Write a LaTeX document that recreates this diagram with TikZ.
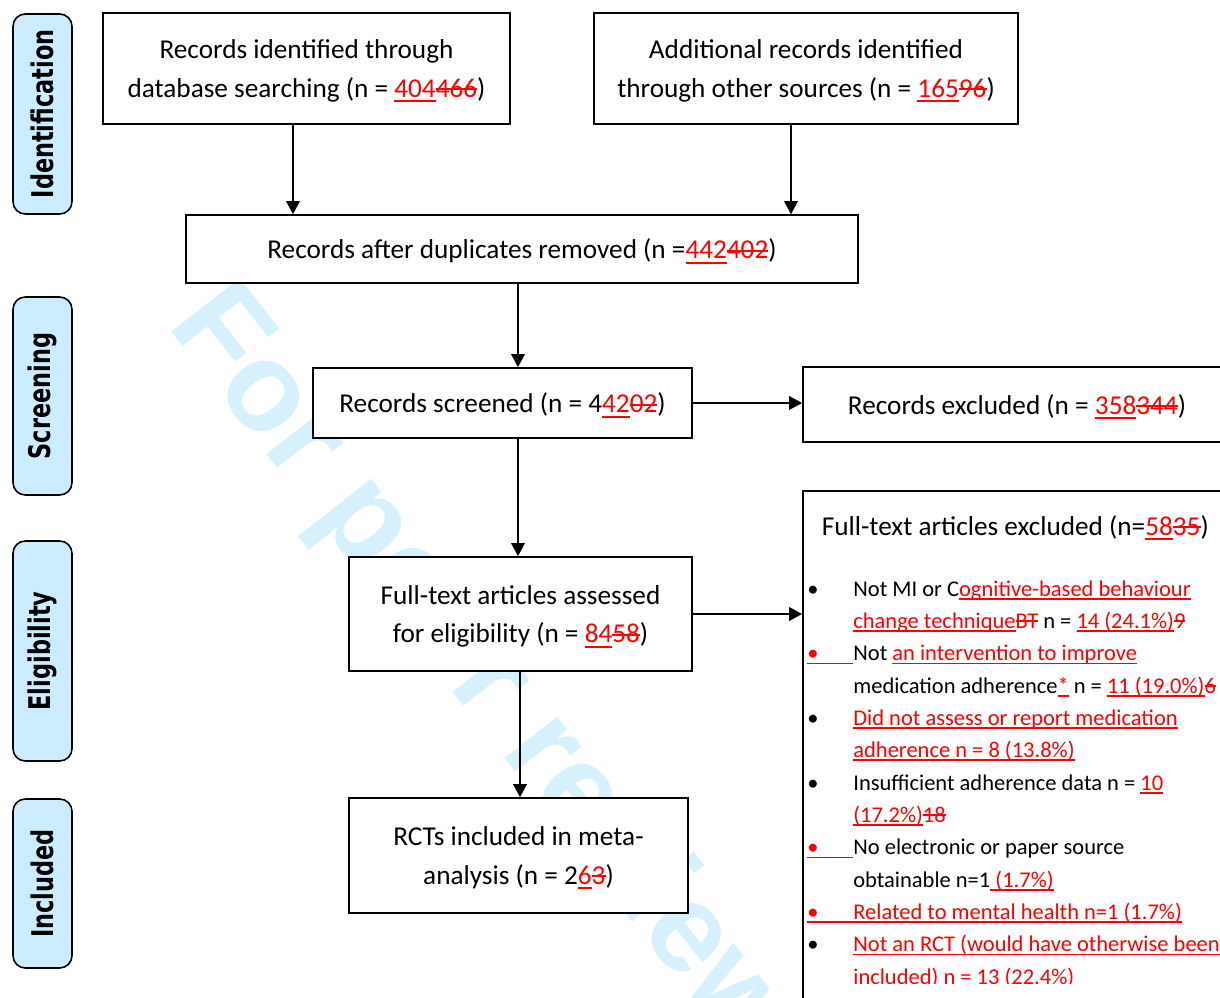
\documentclass[tikz,border=0pt]{standalone}
\usepackage{fontspec}
\usepackage{graphicx}
\setmainfont{Carlito}
\newfontfamily\stagefont{DejaVu Sans}
\newfontfamily\markfont{Liberation Sans}
\usetikzlibrary{arrows.meta}

\definecolor{stageblue}{RGB}{204,236,255}
\definecolor{markblue}{RGB}{214,240,252}
\definecolor{editred}{RGB}{255,0,0}

\newcommand{\boxsize}{\fontsize{15.5}{22.1}\selectfont}
\newcommand{\listsize}{\fontsize{12.8}{18.3}\selectfont}
\newcommand{\squeeze}[1]{\scalebox{0.75}[1]{#1}}
\newsavebox{\editbox}
% tracked changes: inserted text underlined, deleted text struck out
\newcommand{\addtxt}[1]{\sbox{\editbox}{\color{editred}#1}%
  {\color{editred}\rlap{\rule[-0.17em]{\wd\editbox}{0.07em}}}\usebox{\editbox}}
\newcommand{\deltxt}[1]{\sbox{\editbox}{\color{editred}#1}%
  {\color{editred}\rlap{\rule[0.27em]{\wd\editbox}{0.07em}}}\usebox{\editbox}}
\newcommand{\dotbox}{\makebox[0.92cm][l]{•}}

\begin{document}
\begin{tikzpicture}[x=2cm, y=-2cm,
  box/.style={draw, line width=0.9pt, fill=white, align=center, inner sep=0pt,
    text depth=0pt, font=\boxsize},
  stage/.style={draw, line width=0.9pt, fill=stageblue, rounded corners=7pt, rotate=90,
    inner sep=0pt, minimum height=1.18cm, font=\stagefont\bfseries\fontsize{17}{17}\selectfont},
  flow/.style={-{Triangle[length=7.4pt,width=7.6pt]}, line width=1.2pt},
  listline/.style={anchor=base west, inner sep=0pt, font=\listsize},
  watermark/.style={anchor=base west, rotate=-52, inner sep=0pt, text=markblue,
    font=\markfont\bfseries\fontsize{72}{72}\selectfont}]
  \useasboundingbox (0,0) rectangle (12.2,9.98);
  \clip (0,0) rectangle (12.2,9.98);

  % Watermark
  \node[watermark] (peermark) at (1.66,3.25) {For peer review};

  % Stages
  \node[stage, minimum width=4.0cm] (identification) at (0.425,1.14) {\squeeze{Identification}};
  \node[stage, minimum width=3.96cm] (screening) at (0.425,3.96) {\squeeze{Screening}};
  \node[stage, minimum width=4.4cm] (eligibility) at (0.425,6.51) {\squeeze{Eligibility}};
  \node[stage, minimum width=3.38cm] (included) at (0.425,8.835) {\squeeze{Included}};

  % Boxes
  \node[box, minimum width=8.14cm, minimum height=2.22cm] (dbsearch) at (3.065,0.685)
    {Records identified through\\database searching (n = \addtxt{404}\deltxt{466})};
  \node[box, minimum width=8.48cm, minimum height=2.22cm] (othersrc) at (8.06,0.685)
    {Additional records identified\\through other sources (n = \addtxt{165}\deltxt{96})};
  \node[box, minimum width=13.44cm, minimum height=1.36cm] (dedup) at (5.22,2.49)
    {Records after duplicates removed (n =\addtxt{442}\deltxt{402})};
  \node[box, minimum width=7.58cm, minimum height=1.4cm] (screened) at (5.025,4.03)
    {Records screened (n = 4\addtxt{42}\deltxt{02})};
  \node[box, minimum width=8.56cm, minimum height=1.5cm] (recexcl) at (10.17,4.045)
    {Records excluded (n = \addtxt{358}\deltxt{344})};
  \node[box, minimum width=6.86cm, minimum height=2.28cm] (fullassess) at (5.205,6.14)
    {Full-text articles assessed\\for eligibility (n = \addtxt{84}\deltxt{58})};
  \node[box, minimum width=6.78cm, minimum height=2.3cm] (rcts) at (5.185,8.555)
    {RCTs included in meta-\\analysis (n = 2\addtxt{6}\deltxt{3})};
  \node[box, minimum width=8.74cm, minimum height=10.98cm] (ftexcl) at (10.215,7.655) {};
  \node[box, draw=none, fill=none, anchor=base west] (ftexcltitle) at (8.21,5.35)
    {Full-text articles excluded (n=\addtxt{58}\deltxt{35})};

  % Exclusion reasons
  \begin{scope}
    \clip (8.0,5.5) rectangle (12.2,9.83);
    \node[listline] (bulA) at (8.07,5.96) {\dotbox};
    \node[listline] (itemA1) at (8.53,5.96) {Not MI or C\addtxt{ognitive-based behaviour}};
    \node[listline] (itemA2) at (8.53,6.28) {\addtxt{change technique}\deltxt{BT} n = \addtxt{14 (24.1\%)}\deltxt{9}};
    \node[listline] (bulB) at (8.07,6.605) {\addtxt{\dotbox}};
    \node[listline] (itemB1) at (8.53,6.605) {Not \addtxt{an intervention to improve}};
    \node[listline] (itemB2) at (8.53,6.93) {medication adherence\addtxt{*} n = \addtxt{11 (19.0\%)}\deltxt{6}};
    \node[listline] (bulC) at (8.07,7.25) {\dotbox};
    \node[listline] (itemC1) at (8.53,7.25) {\addtxt{Did not assess or report medication}};
    \node[listline] (itemC2) at (8.53,7.57) {\addtxt{adherence n = 8 (13.8\%)}};
    \node[listline] (bulD) at (8.07,7.90) {\dotbox};
    \node[listline] (itemD1) at (8.53,7.90) {Insufficient adherence data n = \addtxt{10}};
    \node[listline] (itemD2) at (8.53,8.22) {\addtxt{(17.2\%)}\deltxt{18}};
    \node[listline] (bulE) at (8.07,8.545) {\addtxt{\dotbox}};
    \node[listline] (itemE1) at (8.53,8.545) {No electronic or paper source};
    \node[listline] (itemE2) at (8.53,8.87) {obtainable n=1\addtxt{\ (1.7\%)}};
    \node[listline] (bulF) at (8.07,9.19) {\addtxt{\dotbox Related to mental health n=1 (1.7\%)}};
    \node[listline] (bulG) at (8.07,9.515) {\dotbox};
    \node[listline] (itemG1) at (8.53,9.515) {\addtxt{Not an RCT (would have otherwise been}};
    \node[listline] (itemG2) at (8.53,9.84) {\addtxt{included) n = 13 (22.4\%)}};
  \end{scope}

  % Arrows
  \coordinate (leftcol) at (2.93,0);
  \coordinate (rightcol) at (7.91,0);
  \coordinate (midcol) at (5.18,0);
  \coordinate (lowcol) at (5.20,0);
  \draw[flow] (dbsearch.south -| leftcol) -- (dedup.north -| leftcol);
  \draw[flow] (othersrc.south -| rightcol) -- (dedup.north -| rightcol);
  \draw[flow] (dedup.south -| midcol) -- (screened.north -| midcol);
  \draw[flow] (screened.south -| midcol) -- (fullassess.north -| midcol);
  \draw[flow] (fullassess.south -| lowcol) -- (rcts.north -| lowcol);
  \draw[flow] (screened.east) -- (screened.east -| recexcl.west);
  \draw[flow] (fullassess.east) -- (fullassess.east -| ftexcl.west);
\end{tikzpicture}
\end{document}
